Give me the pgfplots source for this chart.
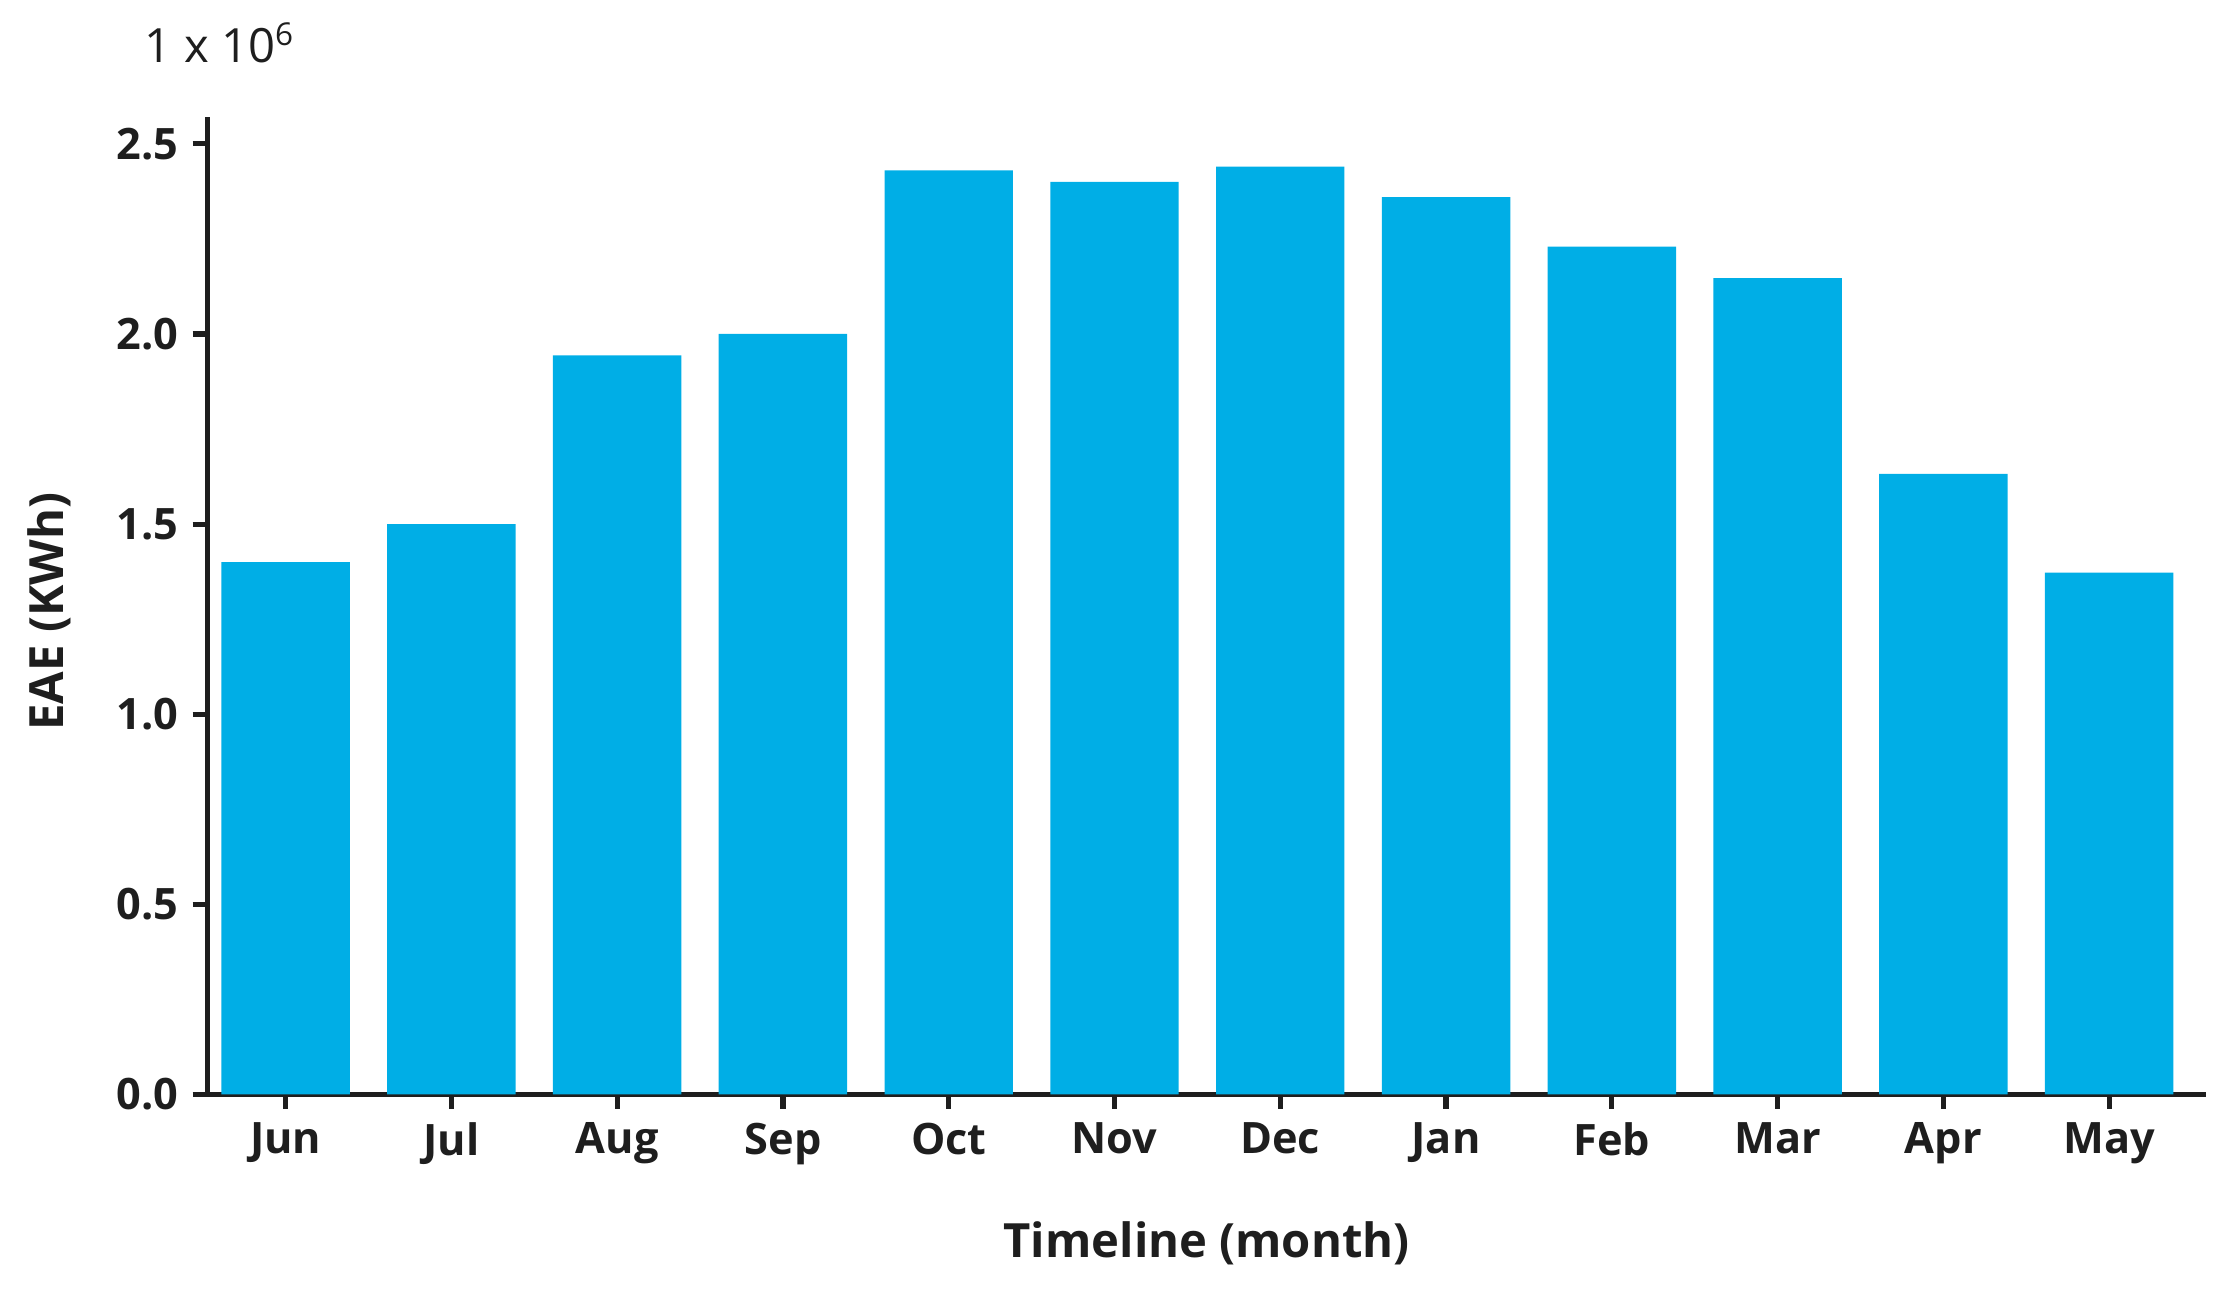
\documentclass[border=0pt]{standalone}
\usepackage{fontspec}
\setmainfont{Open Sans}
\usepackage{pgfplots}
\pgfplotsset{compat=1.18}
\definecolor{barblue}{RGB}{0,174,230}
\definecolor{axisgray}{RGB}{30,30,30}
\begin{document}
\begin{tikzpicture}
\begin{axis}[
    width=17.86cm, height=8.73cm, scale only axis,
    clip=false,
    ybar, bar width=0.775,
    bar shift=0pt,
    xmin=-0.474, xmax=11.586,
    ymin=0, ymax=2.57,
    axis x line*=bottom, axis y line*=left,
    axis line style={line width=1.3pt, color=axisgray},
    tick style={line width=1.3pt, color=axisgray},
    tick align=outside, major tick length=0.13cm,
    xtick={0,...,11},
    xticklabels={Jun,Jul,Aug,Sep,Oct,Nov,Dec,Jan,Feb,Mar,Apr,May},
    ytick={0,0.5,1,1.5,2,2.5},
    yticklabel style={/pgf/number format/fixed, /pgf/number format/fixed zerofill, /pgf/number format/precision=1},
    /pgf/number format/assume math mode=true,
    ticklabel style={font=\fontsize{11}{13}\selectfont\bfseries, color=axisgray},
]
\addplot[fill=barblue, draw=none] coordinates {
    (0,1.40) (1,1.50) (2,1.944) (3,2.00) (4,2.43) (5,2.40)
    (6,2.44) (7,2.36) (8,2.23) (9,2.147) (10,1.632) (11,1.372)
};
\coordinate (bbsw) at (rel axis cs:-0.1036,-0.209);
\coordinate (bbne) at (rel axis cs:1.0164,1.12);
\coordinate (sci) at (rel axis cs:0.0064,1.076);
\coordinate (ylab) at (rel axis cs:-0.079,0.494);
\coordinate (xlab) at (rel axis cs:0.5,-0.152);
\end{axis}
\path[use as bounding box] (bbsw) rectangle (bbne);
\node[font=\fontsize{12}{14}\selectfont, color=axisgray] at (sci) {1 x 10\textsuperscript{6}};
\node[font=\fontsize{12}{14}\selectfont\bfseries, color=axisgray, rotate=90] at (ylab) {EAE (KWh)};
\node[font=\fontsize{12}{14}\selectfont\bfseries, color=axisgray] at (xlab) {Timeline (month)};
\end{tikzpicture}
\end{document}
